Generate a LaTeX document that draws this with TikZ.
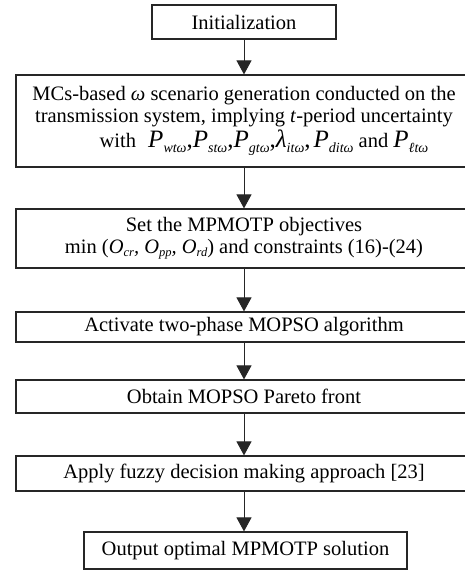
\documentclass[tikz,border=0pt]{standalone}
\usepackage{fontspec}
\setmainfont{Liberation Serif}
\usetikzlibrary{arrows.meta}
\newcommand{\sbs}[1]{\raisebox{-0.35ex}{\fontsize{12.5}{12.5}\selectfont\itshape #1}}
\newcommand{\bigP}[2]{{\fontsize{25}{25}\selectfont\itshape #1}\raisebox{-0.5ex}{\fontsize{14}{14}\selectfont\itshape #2}}
\newcommand{\bcm}{{\fontsize{25}{25}\selectfont,}}
\begin{document}
\begin{tikzpicture}[x=1pt,y=1pt,
  box/.style={draw=black!85, line width=1.2pt, inner sep=0pt, align=center,
    font=\fontsize{20.5}{22}\selectfont},
  flow/.style={draw=black!85, line width=1pt, -{Triangle[width=15pt,length=14pt]}}]
\useasboundingbox (0,0) rectangle (464,571);
\node[box, minimum width=184pt, minimum height=34pt] (b1) at (244,549) {Initialization};
\node[box, minimum width=456pt, minimum height=92pt] (b2) at (244,450)
  {MCs-based \textit{ω} scenario generation conducted on the\\
   transmission system, implying \textit{t}-period uncertainty\\[2pt]
   \hspace*{40pt}with\hspace{7pt} \bigP{P}{wtω}\bcm\bigP{P}{stω}\bcm\bigP{P}{gtω}\bcm\bigP{λ}{itω}\bcm\hspace{3pt}\bigP{P}{ditω} and \bigP{P}{ℓtω}};
\node[box, minimum width=456pt, minimum height=59pt] (b3) at (244,332.5)
  {Set the MPMOTP objectives\\
   min (\textit{O}\sbs{cr}\textit{,} \textit{O}\sbs{pp}\textit{,} \textit{O}\sbs{rd}) and constraints (16)-(24)};
\node[box, minimum width=456pt, minimum height=30pt] (b4) at (244,244) {Activate two-phase MOPSO algorithm};
\node[box, minimum width=456pt, minimum height=33pt] (b5) at (244,174.5) {Obtain MOPSO Pareto front};
\node[box, minimum width=456pt, minimum height=35pt] (b6) at (244,97.5) {Apply fuzzy decision making approach [23]};
\node[box, minimum width=323pt, minimum height=37pt] (b7) at (245.5,20.5) {Output optimal MPMOTP solution};
\draw[flow] (b1.south) -- (b2.north);
\draw[flow] (b2.south) -- (b3.north);
\draw[flow] (b3.south) -- (b4.north);
\draw[flow] (b4.south) -- (b5.north);
\draw[flow] (b5.south) -- (b6.north);
\draw[flow] (b6.south) -- (b6.south |- b7.north);
\end{tikzpicture}
\end{document}
